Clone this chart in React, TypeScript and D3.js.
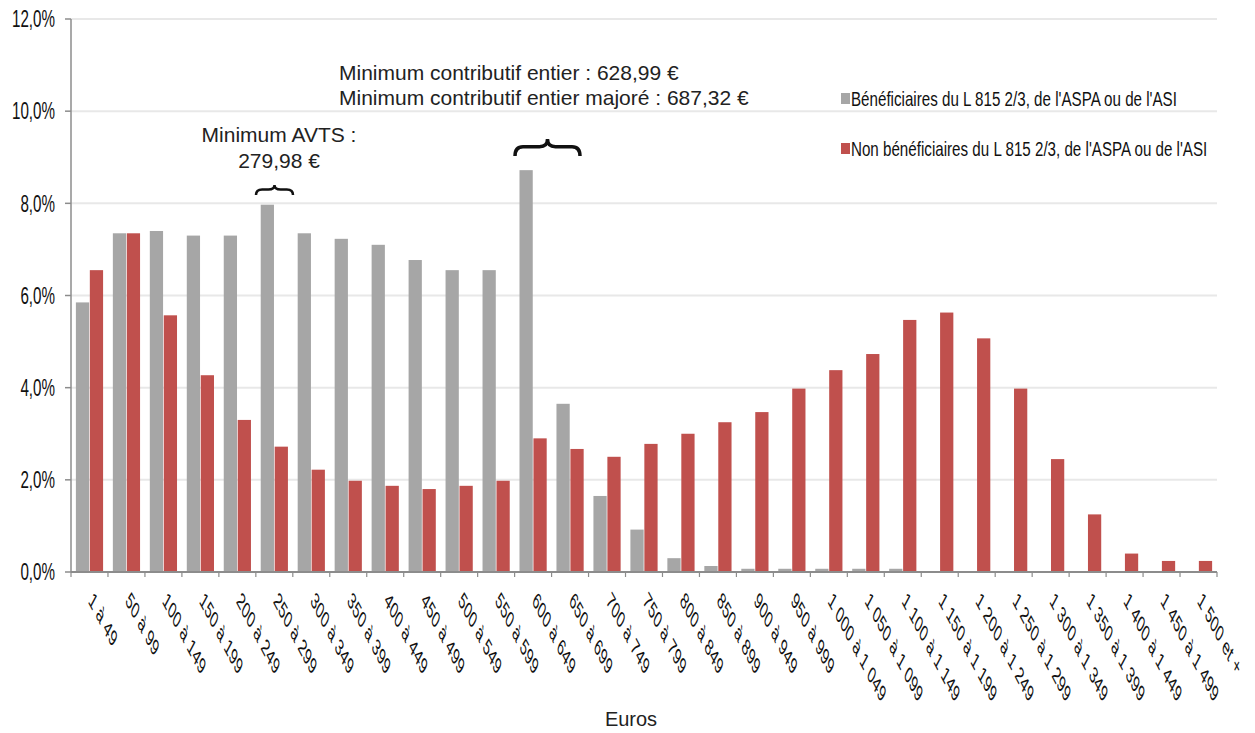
import React from "react";
import * as d3 from "d3";

const categories = [
  "1 à 49", "50 à 99", "100 à 149", "150 à 199", "200 à 249", "250 à 299",
  "300 à 349", "350 à 399", "400 à 449", "450 à 499", "500 à 549", "550 à 599",
  "600 à 649", "650 à 699", "700 à 749", "750 à 799", "800 à 849", "850 à 899",
  "900 à 949", "950 à 999", "1 000 à 1 049", "1 050 à 1 099", "1 100 à 1 149",
  "1 150 à 1 199", "1 200 à 1 249", "1 250 à 1 299", "1 300 à 1 349",
  "1 350 à 1 399", "1 400 à 1 449", "1 450 à 1 499", "1 500 et +",
];

const beneficiaires = [
  5.85, 7.35, 7.4, 7.3, 7.3, 7.97, 7.35, 7.23, 7.1, 6.77, 6.55, 6.55,
  8.72, 3.65, 1.65, 0.92, 0.3, 0.13, 0.07, 0.07, 0.07, 0.07, 0.07,
  0, 0, 0, 0, 0, 0, 0, 0,
];

const nonBeneficiaires = [
  6.55, 7.35, 5.57, 4.27, 3.3, 2.72, 2.22, 1.98, 1.87, 1.8, 1.87, 1.98,
  2.9, 2.67, 2.5, 2.78, 3.0, 3.25, 3.47, 3.98, 4.38, 4.73, 5.47,
  5.63, 5.07, 3.98, 2.45, 1.25, 0.4, 0.24, 0.24,
];

const seriesNames = [
  "Bénéficiaires du L 815 2/3, de l'ASPA ou de l'ASI",
  "Non bénéficiaires du L 815 2/3, de l'ASPA ou de l'ASI",
];
const seriesValues = [beneficiaires, nonBeneficiaires];
const seriesColors = ["#A6A6A6", "#C0504D"];

const yTicks = [0, 2, 4, 6, 8, 10, 12];

const FONT = "'Liberation Sans', Arial, Helvetica, sans-serif";

function bracePath(x0: number, x1: number, yTop: number, yBot: number) {
  const m = (x0 + x1) / 2;
  const r = Math.min(8, (x1 - x0) / 6);
  const yMid = yTop + (yBot - yTop) * 0.45;
  return [
    `M${x0},${yBot}`,
    `Q${x0},${yMid} ${x0 + r},${yMid}`,
    `L${m - r},${yMid}`,
    `Q${m},${yMid} ${m},${yTop}`,
    `Q${m},${yMid} ${m + r},${yMid}`,
    `L${x1 - r},${yMid}`,
    `Q${x1},${yMid} ${x1},${yBot}`,
  ].join(" ");
}

export default function App() {
  const W = 1255;
  const H = 733;
  const left = 71;
  const right = 1217;
  const top = 19;
  const bottom = 572;

  const x = d3.scaleBand<string>().domain(categories).range([left, right]).padding(0);
  const xi = d3
    .scaleBand<string>()
    .domain(["0", "1"])
    .range([0, x.bandwidth()])
    .paddingInner(0.05)
    .paddingOuter(0.35);
  const y = d3.scaleLinear().domain([0, 12]).range([bottom, top]);

  const fmt = (v: number) => v.toFixed(1).replace(".", ",") + "%";

  return (
    <svg
      width={W}
      height={H}
      style={{ position: "absolute", left: 0, top: 0, background: "#fff" }}
      fontFamily={FONT}
    >
      {/* gridlines */}
      {yTicks.filter((t) => t > 0).map((t) => (
        <line key={"g" + t} x1={left} x2={right} y1={y(t)} y2={y(t)} stroke="#E8E8E8" strokeWidth={2} />
      ))}

      {/* bars */}
      {seriesValues.map((vals, si) =>
        vals.map((v, i) => (
          <rect
            key={si + "-" + i}
            x={(x(categories[i]) as number) + (xi(String(si)) as number)}
            y={y(v)}
            width={xi.bandwidth()}
            height={bottom - y(v)}
            fill={seriesColors[si]}
          />
        ))
      )}

      {/* y axis */}
      <line x1={left} x2={left} y1={top} y2={bottom} stroke="#8C8C8C" strokeWidth={1.5} />
      {yTicks.map((t) => (
        <g key={"y" + t}>
          <line x1={left - 6} x2={left} y1={y(t)} y2={y(t)} stroke="#8C8C8C" strokeWidth={1.5} />
          <text
            transform={`translate(55,${y(t)}) scale(0.66,1)`}
            textAnchor="end"
            dy="0.36em"
            fontSize={23}
            fill="#111"
          >
            {fmt(t)}
          </text>
        </g>
      ))}

      {/* x axis */}
      <line x1={left} x2={right} y1={bottom} y2={bottom} stroke="#8C8C8C" strokeWidth={2} />
      {categories.map((c, i) => (
        <line
          key={"t" + i}
          x1={x(c) as number}
          x2={x(c) as number}
          y1={bottom}
          y2={bottom + 5}
          stroke="#8C8C8C"
          strokeWidth={1.2}
        />
      ))}
      <line x1={right} x2={right} y1={bottom} y2={bottom + 5} stroke="#8C8C8C" strokeWidth={1.2} />
      {categories.map((c, i) => (
        <text
          key={"l" + i}
          transform={`translate(${(x(c) as number) + x.bandwidth() / 2 + 1},${597}) scale(0.53,1) rotate(45)`}
          fontSize={23.5}
          dy="0.3em"
          fill="#111"
        >
          {c}
        </text>
      ))}

      <text x={631} y={726} textAnchor="middle" fontSize={20} fill="#222">
        Euros
      </text>

      {/* legend */}
      {seriesNames.map((n, si) => (
        <g key={"lg" + si}>
          <rect x={841} y={si === 0 ? 93 : 143} width={9} height={11} fill={seriesColors[si]} />
          <text
            transform={`translate(851,${si === 0 ? 106 : 156}) scale(0.74,1)`}
            fontSize={20.5}
            fill="#111"
          >
            {n}
          </text>
        </g>
      ))}

      {/* annotations */}
      <text x={339} y={80} fontSize={21} fill="#222">
        Minimum contributif entier : 628,99 €
      </text>
      <text x={339} y={105} fontSize={21} fill="#222">
        Minimum contributif entier majoré : 687,32 €
      </text>
      <text x={279} y={142} fontSize={21} textAnchor="middle" fill="#222">
        Minimum AVTS :
      </text>
      <text x={279} y={168} fontSize={21} textAnchor="middle" fill="#222">
        279,98 €
      </text>
      <path d={bracePath(256, 293, 185, 195)} fill="none" stroke="#111" strokeWidth={2.5} />
      <path d={bracePath(515, 580, 139, 156)} fill="none" stroke="#111" strokeWidth={3.5} />
    </svg>
  );
}
